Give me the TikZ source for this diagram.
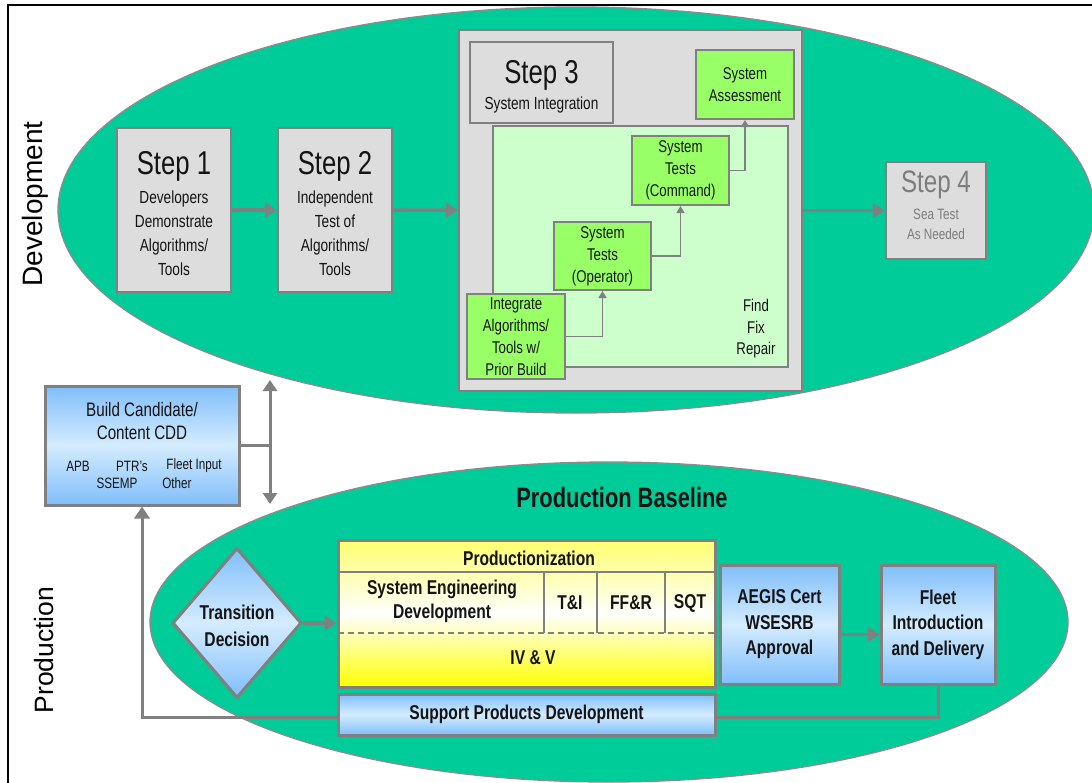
\documentclass[tikz,border=0pt]{standalone}
\usepackage{fontspec}
\setmainfont{Liberation Sans}
\newfontfamily\narrow[FakeStretch=0.78]{Liberation Sans}
\usetikzlibrary{arrows.meta,shapes.geometric}
\newcommand\setfs[2]{\fontsize{#1}{#2}\selectfont}
\definecolor{devgreen}{RGB}{0,204,153}
\definecolor{boxgray}{RGB}{221,221,221}
\definecolor{edgegray}{RGB}{128,128,128}
\definecolor{ellgray}{RGB}{140,140,140}
\definecolor{litegreen}{RGB}{204,255,204}
\definecolor{brightgreen}{RGB}{153,255,102}
\definecolor{bluetop}{RGB}{128,190,250}
\definecolor{bluemid}{RGB}{212,236,255}
\definecolor{yeltop}{RGB}{255,255,110}
\definecolor{yelbot}{RGB}{255,255,0}
\definecolor{greytext}{RGB}{125,125,125}
\definecolor{ink}{RGB}{20,20,20}
\begin{document}
\begin{tikzpicture}[x=1pt,y=-1pt,
  ellbase/.style={ellipse, draw=ellgray, line width=1.3pt, fill=devgreen, inner sep=0pt},
  graybox/.style={draw=edgegray, line width=2.5pt, fill=boxgray, inner sep=0pt},
  greenbox/.style={draw=edgegray, line width=2pt, fill=brightgreen, inner sep=0pt, align=center, text=ink, font=\narrow\setfs{17}{22}},
  bluebox/.style={draw=edgegray, line width=3pt, top color=bluetop, bottom color=bluetop, middle color=bluemid, inner sep=0pt},
  steptitle/.style={font=\narrow\setfs{33}{33}, text=ink, inner sep=0pt},
  body/.style={font=\narrow\setfs{17.5}{24}, align=center, text=ink, inner sep=0pt},
  boldtxt/.style={font=\narrow\bfseries\setfs{20}{25.5}, align=center, text=ink, inner sep=0pt},
  conn/.style={draw=edgegray, line width=3.5pt, -{Triangle[length=12pt,width=15pt]}},
  sconn/.style={draw=edgegray, line width=1.5pt, -{Triangle[length=7pt,width=8pt]}},
  dconn/.style={draw=edgegray, line width=3pt, {Triangle[length=11pt,width=14pt]}-{Triangle[length=11pt,width=14pt]}},
  plainline/.style={draw=edgegray, line width=3pt}
]
\useasboundingbox (0,0) rectangle (1092,782);
\clip (0,0) rectangle (1092,782);
\fill[white] (0,0) rectangle (1092,782);
% frame
\draw[black, line width=2.5pt] (8,800) -- (8,5) -- (1110,5);

% ellipses
\node[ellbase, minimum width=1036pt, minimum height=406pt] (dev) at (576,210) {};
\node[ellbase, minimum width=918pt, minimum height=320pt] (prodell) at (609,622) {};

% side labels
\node[rotate=90, font=\setfs{28}{28}, inner sep=0pt] (devlab) at (35,204) {Development};
\node[rotate=90, font=\setfs{26.5}{26.5}, inner sep=0pt] (prodlab) at (44,650) {Production};

% ---------- Development ----------
\node[graybox, minimum width=114pt, minimum height=164pt] (s1) at (174,210) {};
\node[steptitle] (s1a) at (174,166) {Step 1};
\node[body] (s1b) at (174,233) {Developers\\Demonstrate\\Algorithms/\\Tools};

\node[graybox, minimum width=114pt, minimum height=164pt] (s2) at (335,210) {};
\node[steptitle] (s2a) at (335,166) {Step 2};
\node[body] (s2b) at (335,233) {Independent\\Test of\\Algorithms/\\Tools};

\node[graybox, minimum width=343pt, minimum height=361pt] (s3) at (630.5,210.5) {};
\node[draw=edgegray, line width=2pt, fill=litegreen, minimum width=295pt, minimum height=241pt, inner sep=0pt] (s3in) at (640.5,246.5) {};
\node[graybox, line width=2pt, minimum width=143pt, minimum height=81pt] (s3t) at (541.5,82.5) {};
\node[steptitle] (s3a) at (541.5,75) {Step 3};
\node[body] (s3b) at (541.5,105) {System Integration};

\node[greenbox, minimum width=98pt, minimum height=69pt] (assess) at (745,84.5) {System\\Assessment};
\node[greenbox, minimum width=97pt, minimum height=69pt] (cmd) at (680.5,170.5) {System\\Tests\\(Command)};
\node[greenbox, minimum width=97pt, minimum height=68pt] (oper) at (602.5,256) {System\\Tests\\(Operator)};
\node[greenbox, minimum width=98pt, minimum height=85pt] (integ) at (516,336.5) {Integrate\\Algorithms/\\Tools w/\\Prior Build};
\node[font=\narrow\setfs{17}{21.5}, align=center, text=ink, inner sep=0pt] (ffr) at (756,329) {Find\\Fix\\Repair};

\draw[sconn] (integ.east) -| (oper.south);
\draw[sconn] (oper.east) -| (cmd.south);
\draw[sconn] (cmd.east) -| (assess.south);

\node[graybox, minimum width=100pt, minimum height=97pt] (s4) at (936,210.5) {};
\node[steptitle, font=\narrow\setfs{31}{31}, text=greytext] (s4a) at (936,185) {Step 4};
\node[body, font=\narrow\setfs{15}{20}, text=greytext] (s4b) at (936,224) {Sea Test\\As Needed};

\draw[conn] (s1) -- (s2);
\draw[conn] (s2) -- (s3);
\draw[conn] (s3) -- (s4);

% ---------- Build candidate ----------
\node[bluebox, minimum width=194pt, minimum height=119pt] (build) at (142,445.5) {};
\node[font=\narrow\setfs{19.5}{23}, align=center, text=ink, inner sep=0pt] (bc) at (142,421) {Build Candidate/\\Content CDD};
\node[font=\narrow\setfs{15}{15}, text=ink, inner sep=0pt] (bapb) at (78,466) {APB};
\node[font=\narrow\setfs{15}{15}, text=ink, inner sep=0pt] (bptr) at (132,466) {PTR’s};
\node[font=\narrow\setfs{15}{15}, text=ink, inner sep=0pt] (bfleet) at (194,466) {Fleet Input};
\node[font=\narrow\setfs{15}{15}, text=ink, inner sep=0pt] (bssemp) at (117,483) {SSEMP};
\node[font=\narrow\setfs{15}{15}, text=ink, inner sep=0pt] (bother) at (177,483) {Other};

\coordinate (vt) at (270,380);
\coordinate (vb) at (270,504);
\draw[dconn] (vt) -- (vb);
\draw[plainline] (build.east) -- (build.east -| vt);

% ---------- Production ----------
\coordinate (fbc) at (142,717);
\node[bluebox, minimum width=114pt, minimum height=119pt, align=center, font=\narrow\bfseries\setfs{20}{25.5}, text=ink] (fleet) at (938,624.5) {Fleet\\Introduction\\and Delivery};
\draw[plainline, -{Triangle[length=12pt,width=15pt]}] (fleet.south) |- (fbc) -- (build.south);

\node[font=\narrow\bfseries\setfs{28}{28}, text=ink, inner sep=0pt] (pb) at (622,497) {Production Baseline};

\node[diamond, draw=edgegray, line width=3pt, top color=bluetop, bottom color=bluetop, middle color=bluemid, minimum width=129pt, minimum height=150pt, inner sep=0pt] (td) at (237,623) {};
\node[boldtxt, font=\narrow\bfseries\setfs{20}{27}] (tdt) at (237,626) {Transition\\Decision};

\node[draw=edgegray, line width=3pt, top color=yeltop, bottom color=yelbot, middle color=white, minimum width=377pt, minimum height=147pt, inner sep=0pt] (prod) at (526.5,613.5) {};
\draw[edgegray, line width=1.5pt] (338,572) -- (715,572);
\draw[edgegray, line width=1.5pt] (544,572) -- (544,633) (597,572) -- (597,633) (665,572) -- (665,633);
\draw[edgegray, line width=1.5pt, dash pattern=on 6pt off 4pt] (338,633) -- (715,633);
\node[boldtxt] (pz) at (529,558) {Productionization};
\node[boldtxt, font=\narrow\bfseries\setfs{20}{24}] (sed) at (442,601) {System Engineering\\Development};
\node[boldtxt] (ti) at (570,603) {T\&I};
\node[boldtxt] (ffr2) at (631,603) {FF\&R};
\node[boldtxt] (sqt) at (690,603) {SQT};
\node[boldtxt] (ivv) at (533,658) {IV \& V};

\node[bluebox, minimum width=377pt, minimum height=41pt, font=\narrow\bfseries\setfs{20}{20}, text=ink] (sup) at (526.5,714.5) {Support Products Development};

\node[bluebox, minimum width=119pt, minimum height=119pt, align=center, font=\narrow\bfseries\setfs{20}{25.5}, text=ink] (aegis) at (779.5,624.5) {AEGIS Cert\\WSESRB\\Approval};

\draw[conn] (td.east) -- (td.east -| prod.west);
\draw[conn] ([yshift=-10pt]aegis.east) -- ([yshift=-10pt]aegis.east -| fleet.west);
\end{tikzpicture}
\end{document}
